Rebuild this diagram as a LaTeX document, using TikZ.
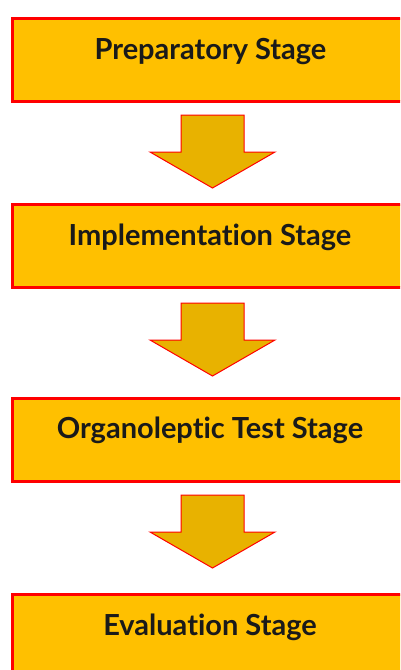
\documentclass[tikz,border=0pt]{standalone}
\usepackage{fontspec}
\setmainfont{Lato}[Ligatures=NoCommon]
\definecolor{boxgold}{HTML}{FFC000}
\definecolor{arrgold}{HTML}{E8B200}
\definecolor{boxred}{HTML}{FF0000}
\definecolor{textdark}{HTML}{1A1A1A}
\tikzset{
  stagebox/.style={draw=boxred, line width=2.8pt, fill=boxgold, rectangle, anchor=north west,
    minimum width=400pt, minimum height=83pt, inner sep=0pt},
  stagetext/.style={font=\bfseries\fontsize{29}{33}\selectfont, text=textdark, anchor=center, inner sep=0pt},
  blockarrow/.style={draw=boxred, line width=1pt, fill=arrgold, line join=miter},
  downarrow/.pic={\draw[blockarrow] (-31.5,0) -- (31.5,0) -- (31.5,37) -- (62.5,37) -- (0,73) -- (-62.5,37) -- (-31.5,37) -- cycle;}
}
\begin{document}
\begin{tikzpicture}[x=1pt,y=-1pt]
\useasboundingbox (0,0) rectangle (400,670);
\clip (0,0) rectangle (400,670);
\fill[white] (0,0) rectangle (400,670);
% stages
\node[stagebox] (b1) at (11,17) {};
\node[stagetext] (t1) at (210.5,51.5) {Preparatory Stage};
\node[stagebox] (b2) at (11,203) {};
\node[stagetext] (t2) at (210,237) {Implementation Stage};
\node[stagebox] (b3) at (11,397) {};
\node[stagetext] (t3) at (210,430.5) {Organoleptic Test Stage};
\node[stagebox] (b4) at (11,593) {};
\node[stagetext] (t4) at (210,627) {Evaluation Stage};
% arrows
\coordinate (a1) at (212.5,115);
\coordinate (a2) at (212.5,303);
\coordinate (a3) at (212.5,495);
\pic at (a1) {downarrow};
\pic at (a2) {downarrow};
\pic at (a3) {downarrow};
\end{tikzpicture}
\end{document}
